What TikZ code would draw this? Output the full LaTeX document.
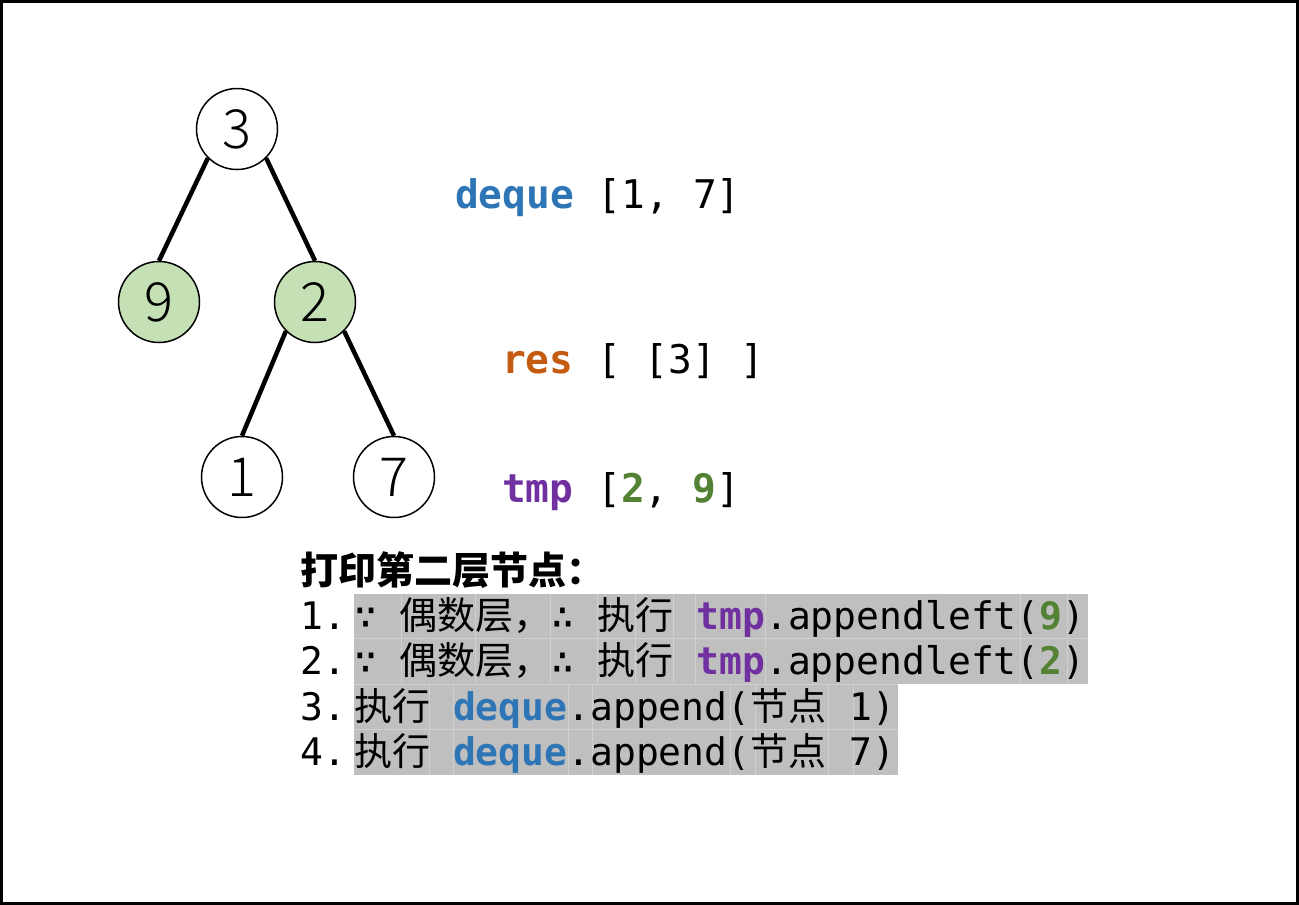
\documentclass[tikz,border=0pt]{standalone}
\usepackage{fontspec}
\setmainfont{Liberation Sans}
\setmonofont{DejaVu Sans Mono}
\newfontfamily\cjk{Noto Sans CJK SC}
\newfontfamily\digitfont{Noto Sans CJK SC Light}

\definecolor{kwblue}{HTML}{2E75B6}
\definecolor{kworange}{HTML}{C55A11}
\definecolor{kwpurple}{HTML}{7030A0}
\definecolor{numgreen}{HTML}{548235}
\definecolor{leaf}{HTML}{C5E0B4}
\definecolor{hl}{HTML}{BFBFBF}
\definecolor{hlsep}{HTML}{D0D0D0}

\newcommand\kwd[2]{\textcolor{#1}{\bfseries #2}}

\begin{document}
\begin{tikzpicture}[x=1pt,y=-1pt,
  tnode/.style={circle,draw,line width=1.5pt,minimum size=81pt,inner sep=0pt,
                font=\digitfont\fontsize{54}{54}\selectfont},
  visited/.style={tnode,fill=leaf},
  edge/.style={line width=4.5pt},
  code/.style={anchor=base west,inner sep=0pt,font=\ttfamily\fontsize{38}{45}\selectfont},
  state/.style={code,font=\ttfamily\fontsize{39.5}{45}\selectfont},
  hlsepline/.style={hlsep,line width=1pt}]
\useasboundingbox (0,0) rectangle (1299,905);
\draw[line width=3pt] (1.5,1.5) rectangle (1297.5,903.5);

% binary tree
\node[tnode]   (n3) at (237,129) {3};
\node[visited] (n9) at (159,302) {9};
\node[visited] (n2) at (315,302) {2};
\node[tnode]   (n1) at (242,477) {1};
\node[tnode]   (n7) at (394,477) {7};
\draw[edge] (n3.225) -- (n9.north);
\draw[edge] (n3.-45) -- (n2.north);
\draw[edge] (n2.225) -- (n1.north);
\draw[edge] (n2.-45) -- (n7.north);

% state of the containers
\node[state] (dq) at (455,208) {\kwd{kwblue}{deque} [1, 7]};
\node[state] (rs) at (502,373) {\kwd{kworange}{res} [ [3] ]};
\node[state] (tp) at (502,502) {\kwd{kwpurple}{tmp} [\kwd{numgreen}{2}, \kwd{numgreen}{9}]};

% highlighted steps
\fill[hl] (354,594) rectangle (1088,684);
\fill[hl] (354,684) rectangle (898,775);
\foreach \x in {401,475,550,597,635,673,695,765,1020,1067}
  \draw[hlsepline] (\x,594) -- (\x,684);
\draw[hlsepline] (354,638) -- (1088,638);
\draw[hlsepline] (354,684) -- (898,684);
\foreach \x in {429,453,568,592,730,755,828,853}
  \draw[hlsepline] (\x,684) -- (\x,775);
\draw[hlsepline] (354,729) -- (898,729);

\node[anchor=base west,inner sep=0pt,font=\cjk\bfseries\fontsize{38}{45}\selectfont]
  (head) at (300,584) {打印第二层节点：};

\node[code] (s1) at (300,629) {1.};
\node[code] (s2) at (300,674) {2.};
\node[code] (s3) at (300,720) {3.};
\node[code] (s4) at (300,765) {4.};

\node[code] (t1) at (354,629) {∵ {\cjk 偶数层，}∴ {\cjk 执行} \kwd{kwpurple}{tmp}.appendleft(\kwd{numgreen}{9})};
\node[code] (t2) at (354,674) {∵ {\cjk 偶数层，}∴ {\cjk 执行} \kwd{kwpurple}{tmp}.appendleft(\kwd{numgreen}{2})};
\node[code] (t3) at (354,720) {{\cjk 执行} \kwd{kwblue}{deque}.append({\cjk 节点} 1)};
\node[code] (t4) at (354,765) {{\cjk 执行} \kwd{kwblue}{deque}.append({\cjk 节点} 7)};
\end{tikzpicture}
\end{document}
